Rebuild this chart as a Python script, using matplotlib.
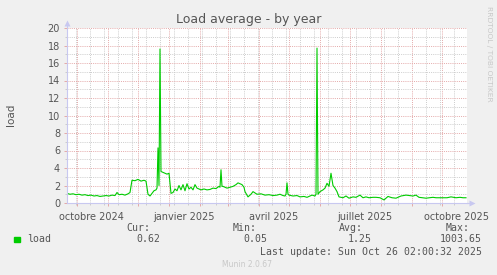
import numpy as np
import pandas as pd
import matplotlib
matplotlib.use("Agg")
import matplotlib.pyplot as plt
import matplotlib.dates as mdates
from matplotlib.ticker import FixedLocator, NullFormatter

W, H = 497, 275

end = pd.Timestamp("2025-10-26 02:00:32")
start = end - pd.Timedelta(days=400)

# day offsets from graph start, load
days = [0, 3, 6, 9, 12, 15, 18, 21, 24, 27,
        30, 33, 36, 39, 42, 45, 48, 50, 52, 55,
        58, 61, 63, 65, 68, 71, 74, 77, 79, 81,
        83, 85, 87, 89, 90, 91, 92, 93, 94, 96,
        98, 100, 102, 104, 106, 108, 110, 112, 114, 116,
        118, 120, 122, 124, 126, 128, 130, 132, 134, 137,
        140, 143, 146, 149, 152, 153, 154, 155, 156, 160,
        163, 166, 169, 171, 173, 175, 177, 178, 181, 184,
        186, 190, 194, 198, 202, 206, 210, 213, 216, 218,
        219, 220, 221, 222, 226, 230, 233, 237, 240, 243,
        245, 248, 249, 250, 251, 253, 256, 258, 260, 262,
        264, 266, 268, 270, 272, 276, 279, 282, 286, 289,
        293, 296, 299, 302, 306, 309, 313, 317, 321, 325,
        329, 334, 339, 343, 346, 349, 352, 356, 359, 363,
        366, 369, 373, 376, 380, 384, 389, 393, 396, 399]
load = [1.1, 1.0, 1.05, 0.95, 1.0, 0.9, 0.95, 0.85, 0.9, 0.8,
        0.85, 0.75, 0.8, 0.85, 0.8, 0.9, 0.85, 1.2, 0.95, 1.0,
        0.9, 1.05, 1.2, 2.6, 2.55, 2.7, 2.5, 2.6, 2.5, 1.0,
        0.8, 1.1, 1.4, 1.5, 1.7, 6.3, 2.0, 17.6, 3.6, 3.5,
        3.4, 3.3, 3.4, 1.1, 1.2, 1.6, 1.4, 2.0, 1.5, 2.1,
        1.4, 2.2, 1.6, 1.8, 1.5, 2.1, 1.7, 1.6, 1.5, 1.6,
        1.5, 1.55, 1.7, 1.65, 1.9, 1.8, 3.8, 1.9, 1.9, 1.7,
        1.8, 1.9, 2.1, 2.3, 2.2, 2.1, 1.8, 1.3, 0.7, 1.0,
        1.3, 1.0, 1.05, 0.9, 0.95, 0.85, 0.9, 1.0, 0.85, 0.8,
        1.0, 2.3, 1.0, 0.9, 0.8, 0.85, 0.7, 0.75, 0.65, 0.8,
        0.9, 0.8, 1.0, 17.7, 1.0, 1.3, 1.5, 1.7, 2.25, 1.9,
        3.4, 2.0, 1.7, 1.3, 0.7, 0.6, 0.8, 0.55, 0.7, 0.65,
        0.9, 0.6, 0.7, 0.6, 0.65, 0.65, 0.6, 0.35, 0.75, 0.6,
        0.55, 0.8, 0.9, 0.85, 0.8, 0.9, 0.65, 0.6, 0.55, 0.6,
        0.65, 0.6, 0.6, 0.6, 0.6, 0.7, 0.6, 0.65, 0.6, 0.6]

month_labels = ["octobre 2024", "janvier 2025", "avril 2025", "juillet 2025", "octobre 2025"]
label_dates = ["2024-10-16", "2025-01-16", "2025-04-16", "2025-07-16", "2025-10-16"]
yticks = list(range(0, 21, 2))

legend_heads = ["Cur:", "Min:", "Avg:", "Max:"]
legend_vals = ["0.62", "0.05", "1.25", "1003.65"]
head_right = [150, 257, 363, 470]
val_right = [160, 267, 372, 482]

BG = "#f0f0f0"
MAJ = "#e4a9a9"
MIN = "#cccccc"
AXIS = "#c8c8f0"
TXT = "#555555"


def fx(x):
    return x / W


def fy(y):
    return 1 - y / H


fig = plt.figure(figsize=(W / 100, H / 100), dpi=100, facecolor=BG)
ax = fig.add_axes([fx(67), fy(203), 400 / W, 175 / H])
ax.set_facecolor("white")

x = mdates.date2num(start + pd.to_timedelta(days, unit="D"))
ax.plot(x, load, color="#00cc00", lw=0.8, zorder=3)

ax.set_xlim(mdates.date2num(start), mdates.date2num(end))
ax.set_ylim(0, 20)

# grid: months major, every two weeks minor
months = pd.date_range("2024-10-01", end, freq="MS")
twoweeks = pd.date_range("2024-09-16", end, freq="14D")
ax.xaxis.set_major_locator(FixedLocator(mdates.date2num(months)))
ax.xaxis.set_minor_locator(FixedLocator(mdates.date2num(twoweeks)))
ax.xaxis.set_major_formatter(NullFormatter())
ax.yaxis.set_major_locator(FixedLocator(yticks))
ax.yaxis.set_minor_locator(FixedLocator(range(1, 20, 2)))
ax.set_yticklabels([str(v) for v in yticks])

ax.grid(which="minor", color=MIN, lw=0.7, linestyle=(0, (1, 1.2)))
ax.grid(which="major", color=MAJ, lw=0.7, linestyle=(0, (1, 1.2)))
ax.set_axisbelow(True)

ax.tick_params(which="major", length=2, width=0.7, color=MAJ, labelsize=7,
               labelcolor=TXT, pad=3)
ax.tick_params(which="minor", length=1.5, width=0.7, color=MIN)
ax.tick_params(axis="x", labelbottom=False)

for s in ["top", "right"]:
    ax.spines[s].set_visible(False)
for s in ["bottom", "left"]:
    ax.spines[s].set_color(AXIS)
    ax.spines[s].set_linewidth(0.8)
    ax.spines[s].set_zorder(4)

# axis arrows
ax.plot([1.0, 1.013], [0, 0], color=AXIS, lw=0.8, transform=ax.transAxes, clip_on=False)
ax.plot([1.013], [0], marker=">", ms=4, color=AXIS, mec="none",
        transform=ax.transAxes, clip_on=False)
ax.plot([0, 0], [1.0, 1.03], color=AXIS, lw=0.8, transform=ax.transAxes, clip_on=False)
ax.plot([0], [1.03], marker="^", ms=4, color=AXIS, mec="none",
        transform=ax.transAxes, clip_on=False)

for lab, d in zip(month_labels, label_dates):
    ax.text(mdates.date2num(pd.Timestamp(d)), -0.05, lab, transform=ax.get_xaxis_transform(),
            ha="center", va="top", fontsize=7, color=TXT)

fig.text(fx(249), fy(20), "Load average - by year", ha="center", va="center",
         fontsize=9, color=TXT)
fig.text(fx(11), fy(115), "load", rotation=90, ha="center", va="center",
         fontsize=7.5, color=TXT)
fig.text(fx(488.5), fy(54), "RRDTOOL / TOBI OETIKER", rotation=270, ha="center",
         va="center", fontsize=5.4, color="#c8c8c8")

mono = "DejaVu Sans Mono"
fig.patches.append(plt.Rectangle((fx(14), fy(242)), 5.5 / W, 5.5 / H, color="#00cc00",
                                 transform=fig.transFigure))
fig.text(fx(27), fy(239.5), "load", family=mono, fontsize=7.1, color=TXT, va="center")
for h, v, hr, vr in zip(legend_heads, legend_vals, head_right, val_right):
    fig.text(fx(hr), fy(228), h, family=mono, fontsize=7.1, color=TXT, ha="right", va="center")
    fig.text(fx(vr), fy(239.5), v, family=mono, fontsize=7.1, color=TXT, ha="right", va="center")
fig.text(fx(482.5), fy(252), "Last update: Sun Oct 26 02:00:32 2025", family=mono,
         fontsize=7.1, color=TXT, ha="right", va="center")
fig.text(fx(247.5), fy(264.5), "Munin 2.0.67", fontsize=5.5, color="#c8c8c8",
         ha="center", va="center")

fig.savefig("out.png", dpi=100, facecolor=BG)
